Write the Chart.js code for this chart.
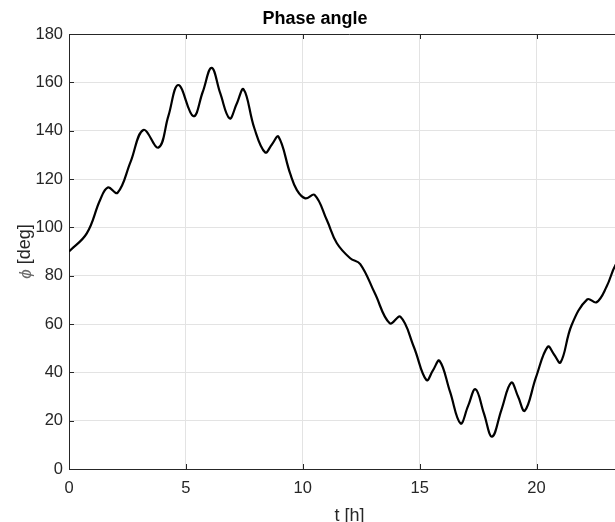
<!DOCTYPE html>
<html>
<head>
<meta charset="utf-8">
<script src="https://cdn.jsdelivr.net/npm/chart.js"></script>
<style>
  html, body { margin: 0; padding: 0; background: #fff; }
  #wrap { width: 615px; height: 522px; overflow: hidden; position: relative; }
  #phaseChart { display: block; }
</style>
</head>
<body>
<div id="wrap">
  <canvas id="phaseChart" width="650" height="540"></canvas>
</div>
<script>
// phase angle over one day
const hours = [
  0, 0.76, 1.33, 1.66, 2.08, 2.63, 3.18, 3.83, 4.25, 4.68,
  5.32, 5.72, 6.1, 6.47, 6.87, 7.17, 7.47, 7.93, 8.39, 8.68,
  8.96, 9.46, 9.75, 10.11, 10.51, 11.03, 11.46, 12.03, 12.46, 13.08,
  13.72, 14.18, 14.75, 15.29, 15.57, 15.85, 16.3, 16.75, 17.07, 17.39,
  17.75, 18.1, 18.5, 18.92, 19.21, 19.5, 19.98, 20.48, 20.75, 21.03,
  21.5, 22.17, 22.57, 23.0, 23.38, 24
];
const phaseDeg = [
  90, 97.5, 111.3, 116.5, 114.3, 127, 140.3, 133, 146, 158.9,
  146, 156, 166, 155.5, 145.1, 151, 157.1, 141, 131, 134.3,
  137.5, 122.3, 115.4, 112, 113.4, 103, 93.4, 87.2, 84.8, 72.8,
  60.3, 63, 50.6, 36.8, 40.8, 44.8, 32, 18.9, 26, 33,
  23, 13.4, 24.5, 35.7, 30, 24.1, 38, 50.6, 47.4, 44.1,
  59.5, 70.2, 69, 75.5, 84.4, 93
];

const xTickValues = [0, 5, 10, 15, 20];
const yTickValues = [0, 20, 40, 60, 80, 100, 120, 140, 160, 180];

const axisColor = '#262626';
const gridColor = '#e3e3e3';
const fontFamily = '"Liberation Sans", Arial, Helvetica, sans-serif';

// top/right frame and the small inward tick marks
const boxTicks = {
  id: 'boxTicks',
  afterDraw(chart) {
    const { ctx, chartArea: a, scales: { x, y } } = chart;
    const len = 5;
    ctx.save();
    ctx.strokeStyle = axisColor;
    ctx.lineWidth = 1;
    ctx.beginPath();
    ctx.moveTo(a.left, Math.round(a.top) + 0.5);
    ctx.lineTo(a.right, Math.round(a.top) + 0.5);
    ctx.moveTo(Math.round(a.right) - 0.5, a.top);
    ctx.lineTo(Math.round(a.right) - 0.5, a.bottom);
    x.ticks.forEach(t => {
      const px = Math.round(x.getPixelForValue(t.value)) + 0.5;
      ctx.moveTo(px, a.bottom);
      ctx.lineTo(px, a.bottom - len);
      ctx.moveTo(px, a.top);
      ctx.lineTo(px, a.top + len);
    });
    y.ticks.forEach(t => {
      const py = Math.round(y.getPixelForValue(t.value)) + 0.5;
      ctx.moveTo(a.left, py);
      ctx.lineTo(a.left + len, py);
      ctx.moveTo(a.right, py);
      ctx.lineTo(a.right - len, py);
    });
    ctx.stroke();
    ctx.restore();
  }
};

// y axis label: italic phi followed by the unit, rotated
const phiLabel = {
  id: 'phiLabel',
  afterDraw(chart) {
    const { ctx, chartArea: a } = chart;
    const sym = 'ϕ';
    const unit = ' [deg]';
    ctx.save();
    ctx.translate(25, (a.top + a.bottom) / 2);
    ctx.rotate(-Math.PI / 2);
    ctx.textBaseline = 'middle';
    ctx.font = 'italic 17px ' + fontFamily;
    const wSym = ctx.measureText(sym).width;
    ctx.font = '18px ' + fontFamily;
    const wUnit = ctx.measureText(unit).width;
    const x0 = -(wSym + wUnit) / 2;
    ctx.font = 'italic 17px ' + fontFamily;
    ctx.fillStyle = '#6a6a6a';
    ctx.fillText(sym, x0, 1);
    ctx.font = '18px ' + fontFamily;
    ctx.fillStyle = axisColor;
    ctx.fillText(unit, x0 + wSym, 0);
    ctx.restore();
  }
};

const ctx = document.getElementById('phaseChart').getContext('2d');
const chart = new Chart(ctx, {
  type: 'line',
  data: {
    datasets: [{
      data: hours.map((h, i) => ({ x: h, y: phaseDeg[i] })),
      borderColor: '#000000',
      borderWidth: 2.2,
      pointRadius: 0,
      fill: false,
      tension: 0.4
    }]
  },
  options: {
    responsive: false,
    animation: false,
    devicePixelRatio: 1,
    layout: { padding: { left: 0, right: 20, top: 0, bottom: 0 } },
    plugins: {
      legend: { display: false },
      tooltip: { enabled: false },
      title: {
        display: true,
        text: 'Phase angle',
        color: '#000000',
        font: { family: fontFamily, size: 18, weight: 'bold' },
        padding: { top: 8, bottom: 4.4 }
      }
    },
    scales: {
      x: {
        type: 'linear',
        min: 0,
        max: 24,
        afterBuildTicks: s => { s.ticks = xTickValues.map(v => ({ value: v })); },
        afterFit: s => { s.height = 71; },
        ticks: {
          color: axisColor,
          padding: 10,
          maxRotation: 0,
          font: { family: fontFamily, size: 16.5 }
        },
        grid: { color: gridColor, drawTicks: false },
        border: { color: axisColor, width: 1 },
        title: {
          display: true,
          text: 't [h]',
          color: axisColor,
          font: { family: fontFamily, size: 18 },
          padding: { top: 0, bottom: 13 }
        }
      },
      y: {
        type: 'linear',
        min: 0,
        max: 180,
        afterBuildTicks: s => { s.ticks = yTickValues.map(v => ({ value: v })); },
        afterFit: s => { s.width = 69; },
        ticks: {
          color: axisColor,
          padding: 6,
          font: { family: fontFamily, size: 16.5 }
        },
        grid: { color: gridColor, drawTicks: false },
        border: { color: axisColor, width: 1 },
        title: { display: false }
      }
    }
  },
  plugins: [boxTicks, phiLabel]
});
</script>
</body>
</html>
